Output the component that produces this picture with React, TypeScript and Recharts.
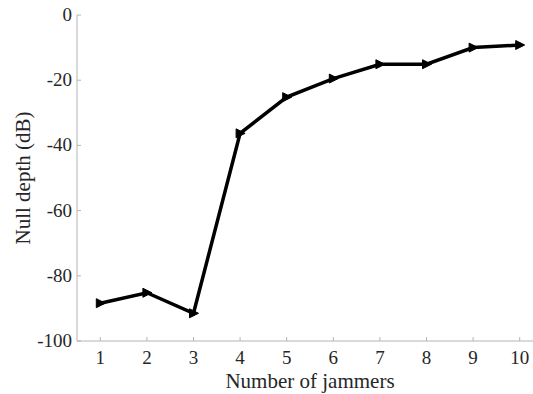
import React from 'react';
import { LineChart, Line, XAxis, YAxis, Label } from 'recharts';

const jammers = [1, 2, 3, 4, 5, 6, 7, 8, 9, 10];
const nullDepth = [-88.4, -85.2, -91.5, -36.3, -25.2, -19.5, -15.1, -15.1, -10.0, -9.2];
const xTicks = [1, 2, 3, 4, 5, 6, 7, 8, 9, 10];
const yTicks = [-100, -80, -60, -40, -20, 0];

const data = jammers.map((n, i) => ({ n, depth: nullDepth[i] }));

const axisColor = '#b4b4b4';
const textColor = '#262626';
const font = '"Liberation Serif", "Times New Roman", serif';

const TriangleDot = (props: any) => {
  const { cx, cy } = props;
  if (cx == null || cy == null) return null;
  return (
    <polygon
      points={`${cx - 4},${cy - 4.5} ${cx + 5},${cy} ${cx - 4},${cy + 4.5}`}
      fill="#000"
      stroke="#000"
      strokeWidth={1}
    />
  );
};

const XTick = (props: any) => {
  const { x, y, payload } = props;
  return (
    <text x={x} y={y + 14} textAnchor="middle" fill={textColor} fontSize={19} fontFamily={font}>
      {payload.value}
    </text>
  );
};

const YTick = (props: any) => {
  const { x, y, payload } = props;
  return (
    <text x={x} y={y + 6} textAnchor="end" fill={textColor} fontSize={19} fontFamily={font}>
      {payload.value}
    </text>
  );
};

export default function App() {
  return (
    <div style={{ position: 'absolute', left: 0, top: 0, width: 533, height: 394, overflow: 'hidden', background: '#fff', fontFamily: font }}>
      <LineChart width={544} height={394} data={data} margin={{ top: 15, right: 1, bottom: 0, left: 0 }}>
        <XAxis
          xAxisId="top"
          orientation="top"
          dataKey="n"
          type="number"
          domain={[0.5, 10.5]}
          ticks={xTicks}
          height={0}
          tick={false}
          tickSize={-4}
          stroke={axisColor}
        />
        <XAxis
          dataKey="n"
          type="number"
          domain={[0.5, 10.5]}
          ticks={xTicks}
          height={53}
          tickSize={-4}
          tickMargin={13}
          stroke={axisColor}
          tick={<XTick />}
        >
          <Label
            value="Number of jammers"
            position="insideBottom"
            offset={6}
            style={{ fill: textColor, fontSize: 21, fontFamily: font }}
          />
        </XAxis>
        <YAxis
          type="number"
          domain={[-100, 0]}
          ticks={yTicks}
          width={77}
          tickSize={-4}
          tickMargin={9}
          stroke={axisColor}
          tick={<YTick />}
        >
          <Label
            value="Null depth (dB)"
            angle={-90}
            position="insideLeft"
            offset={23}
            style={{ fill: textColor, fontSize: 21, fontFamily: font, textAnchor: 'middle' }}
          />
        </YAxis>
        <Line
          dataKey="depth"
          stroke="#000"
          strokeWidth={3.5}
          dot={<TriangleDot />}
          activeDot={false}
          isAnimationActive={false}
        />
      </LineChart>
    </div>
  );
}
